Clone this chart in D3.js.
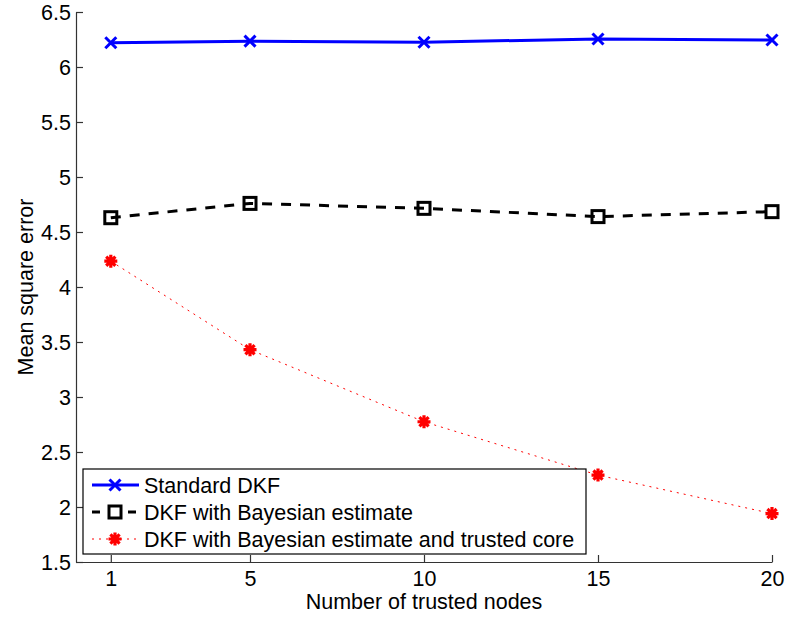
<!DOCTYPE html>
<html>
<head>
<meta charset="utf-8">
<script src="https://cdn.jsdelivr.net/npm/d3@7"></script>
<style>
  html, body { margin: 0; padding: 0; background: #fff; }
  svg { display: block; font-family: "Liberation Sans", Arial, Helvetica, sans-serif; }
</style>
</head>
<body>
<svg id="chart" width="789" height="617"></svg>
<script>
// Number of trusted nodes (x values)
const trustedNodes = [1, 5, 10, 15, 20];

// Mean square error per method
const standardDKF = [6.22, 6.235, 6.225, 6.255, 6.245];
const bayesianDKF = [4.63, 4.76, 4.715, 4.64, 4.685];
const trustedCoreDKF = [4.235, 3.43, 2.775, 2.29, 1.94];

const seriesNames = [
  "Standard DKF",
  "DKF with Bayesian estimate",
  "DKF with Bayesian estimate and trusted core"
];

const xTicks = [1, 5, 10, 15, 20];
const yTicks = [1.5, 2, 2.5, 3, 3.5, 4, 4.5, 5, 5.5, 6, 6.5];

const svg = d3.select("#chart");
const margin = { left: 76, right: 17, top: 12, bottom: 55 };
const W = 789, H = 617;
const fontSize = "21.5px";

const x = d3.scaleLinear().domain([0, 20]).range([margin.left, W - margin.right]);
const y = d3.scaleLinear().domain([1.5, 6.5]).range([H - margin.bottom, margin.top]);

const axisColor = "#333";

// Axes: ticks point inward
const xAxis = d3.axisBottom(x).tickValues(xTicks).tickSizeInner(-7).tickSizeOuter(0).tickPadding(9);
const yAxis = d3.axisLeft(y).tickValues(yTicks).tickSizeInner(-7).tickSizeOuter(0).tickPadding(5)
  .tickFormat(d3.format("~g"));

const gx = svg.append("g").attr("transform", `translate(0,${y.range()[0]})`).call(xAxis);
const gy = svg.append("g").attr("transform", `translate(${margin.left},0)`).call(yAxis);

[gx, gy].forEach(g => {
  g.attr("font-family", null).attr("font-size", null);
  g.select(".domain").attr("stroke", axisColor).attr("stroke-width", 1.2);
  g.selectAll(".tick line").attr("stroke", axisColor).attr("stroke-width", 1.2);
  g.selectAll(".tick text").attr("fill", "#000").style("font-size", fontSize);
});
gy.selectAll(".tick text").attr("dy", "0.36em");

// Axis titles
svg.append("text")
  .attr("x", (x.range()[0] + x.range()[1]) / 2)
  .attr("y", 609)
  .attr("text-anchor", "middle")
  .style("font-size", fontSize)
  .text("Number of trusted nodes");

svg.append("text")
  .attr("transform", `translate(33,${(y.range()[0] + y.range()[1]) / 2}) rotate(-90)`)
  .attr("text-anchor", "middle")
  .style("font-size", fontSize)
  .text("Mean square error");

const line = d3.line().x(d => x(d[0])).y(d => y(d[1]));
const zipXY = vals => trustedNodes.map((n, i) => [n, vals[i]]);

// Marker drawing helpers
function drawX(g, cx, cy, s, color) {
  g.append("path")
    .attr("d", `M${cx - s},${cy - s}L${cx + s},${cy + s}M${cx - s},${cy + s}L${cx + s},${cy - s}`)
    .attr("stroke", color).attr("stroke-width", 3).attr("fill", "none");
}
function drawSquare(g, cx, cy, s, color) {
  g.append("rect")
    .attr("x", cx - s).attr("y", cy - s).attr("width", 2 * s).attr("height", 2 * s)
    .attr("stroke", color).attr("stroke-width", 3).attr("fill", "none");
}
function drawStar(g, cx, cy, s, color) {
  let d = "";
  for (let k = 0; k < 4; k++) {
    const a = k * Math.PI / 4;
    d += `M${cx - s * Math.cos(a)},${cy - s * Math.sin(a)}L${cx + s * Math.cos(a)},${cy + s * Math.sin(a)}`;
  }
  g.append("path").attr("d", d).attr("stroke", color).attr("stroke-width", 3.2)
    .attr("stroke-linecap", "butt").attr("fill", "none");
}

const series = [
  { name: seriesNames[0], values: standardDKF, color: "#0000ff", width: 3, dash: null, marker: drawX, size: 5.5 },
  { name: seriesNames[1], values: bayesianDKF, color: "#000000", width: 3, dash: "10,9", marker: drawSquare, size: 6 },
  { name: seriesNames[2], values: trustedCoreDKF, color: "#ff0000", width: 1, dash: "2,5", marker: drawStar, size: 6.5 }
];

const plot = svg.append("g");
series.forEach(s => {
  plot.append("path")
    .datum(zipXY(s.values))
    .attr("d", line)
    .attr("fill", "none")
    .attr("stroke", s.color)
    .attr("stroke-width", s.width)
    .attr("stroke-dasharray", s.dash);
  const mg = plot.append("g");
  zipXY(s.values).forEach(([n, v]) => s.marker(mg, x(n), y(v), s.size, s.color));
});

// Legend
const legend = svg.append("g");
const lx = 83, ly = 469, lw = 503, lh = 85;
legend.append("rect")
  .attr("x", lx).attr("y", ly).attr("width", lw).attr("height", lh)
  .attr("fill", "#fff").attr("stroke", "#000").attr("stroke-width", 1.2);

series.forEach((s, i) => {
  const cy = ly + 16 + i * 27;
  legend.append("line")
    .attr("x1", lx + 9).attr("x2", lx + 56).attr("y1", cy).attr("y2", cy)
    .attr("stroke", s.color).attr("stroke-width", s.width)
    .attr("stroke-dasharray", s.dash ? (i === 1 ? "8,10" : s.dash) : null);
  if (i === 1) {
    // blank the middle so the marker sits cleanly
    legend.append("rect").attr("x", lx + 24).attr("y", cy - 6).attr("width", 16).attr("height", 12).attr("fill", "#fff");
  }
  s.marker(legend, lx + 32, cy, s.size, s.color);
  legend.append("text")
    .attr("x", lx + 61).attr("y", cy).attr("dy", "0.36em")
    .style("font-size", fontSize)
    .text(s.name);
});
</script>
</body>
</html>
